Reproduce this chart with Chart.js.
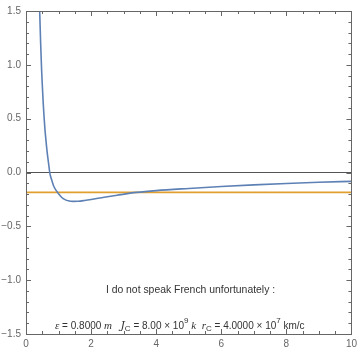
<!DOCTYPE html>
<html><head><meta charset="utf-8">
<script src="https://cdn.jsdelivr.net/npm/chart.js@4"></script>
<style>
html,body{margin:0;padding:0;background:#fff;}
#wrap{position:relative;width:361px;height:353px;}
.t{position:absolute;font-family:"Liberation Sans",Arial,sans-serif;font-size:10px;color:#333;white-space:nowrap;}
.t sup{font-size:8px;vertical-align:6px;line-height:0;}
.t sub{font-size:8px;vertical-align:-2px;line-height:0;}
.i{font-style:italic;font-family:"Liberation Serif",serif;font-size:11px;}
</style></head>
<body><div id="wrap"><canvas id="c" width="361" height="353"></canvas>
<div class="t" id="l1" style="left:0;width:381px;text-align:center;top:284px;font-size:10.4px;">I do not speak French unfortunately :</div>
<div class="t" id="l2" style="left:55px;top:319px;"><span class="i">ε</span> = 0.8000 <span class="i">m</span>&nbsp;&nbsp; <span class="i" style="font-family:'DejaVu Serif',serif;font-size:11px;">J</span><sub>C</sub> = 8.00 × 10<sup>9</sup> <span class="i">k</span>&nbsp; <span class="i">r</span><sub>C</sub> = 4.0000 × 10<sup>7</sup> km/c</div>
</div>
<script>
const xs = [0.40,0.42,0.45,0.48,0.50,0.53,0.55,0.58,0.60,0.65,0.70,0.73,0.75,0.80,0.85,0.90,0.97,1.0,1.1,1.2,1.3,1.45,1.6,1.8,2.0,2.4,2.8,3.4,4.0,5.0,6.0,7.0,8.0,9.0,10.0];
const ys = [1.72,1.50,1.20,0.95,0.82,0.64,0.54,0.41,0.34,0.19,0.07,0.0,-0.03,-0.08,-0.125,-0.155,-0.185,-0.198,-0.232,-0.252,-0.263,-0.268,-0.267,-0.260,-0.251,-0.230,-0.211,-0.185,-0.168,-0.148,-0.130,-0.115,-0.102,-0.091,-0.082];
const levelX = [0, 10];
const levelY = [-0.185, -0.185];
const zeroY = [0, 0];
const xTicks = [0,2,4,6,8,10];
const yTicks = [-1.5,-1.0,-0.5,0.0,0.5,1.0,1.5];

const frame = {
  id:'frame',
  afterDraw(chart){
    const ctx=chart.ctx, a=chart.chartArea, sx=chart.scales.x, sy=chart.scales.y;
    ctx.save();
    ctx.strokeStyle='#666'; ctx.lineWidth=1;
    ctx.strokeRect(Math.round(a.left)+0.5, Math.round(a.top)+0.5, Math.round(a.right-a.left), Math.round(a.bottom-a.top));
    ctx.beginPath();
    for(let v=0; v<=10.001; v+=0.5){
      const px=Math.round(sx.getPixelForValue(v))+0.5;
      const major=Math.abs(v/2-Math.round(v/2))<1e-6;
      const L=major?5:3;
      ctx.moveTo(px,a.bottom); ctx.lineTo(px,a.bottom-L);
      ctx.moveTo(px,a.top); ctx.lineTo(px,a.top+L);
    }
    for(let k=-15; k<=15; k++){
      const v=k/10;
      const py=Math.round(sy.getPixelForValue(v))+0.5;
      const L=(k%5===0)?5:3;
      ctx.moveTo(a.left,py); ctx.lineTo(a.left+L,py);
      ctx.moveTo(a.right,py); ctx.lineTo(a.right-L,py);
    }
    ctx.stroke();
    ctx.restore();
  }
};

new Chart(document.getElementById('c'), {
  type:'scatter',
  data:{datasets:[
    {data:levelX.map((x,i)=>({x,y:zeroY[i]})), showLine:true, borderColor:'#555', borderWidth:1, pointRadius:0, order:3},
    {data:levelX.map((x,i)=>({x,y:levelY[i]})), showLine:true, borderColor:'#E0A030', borderWidth:1.6, pointRadius:0, order:2},
    {data:xs.map((x,i)=>({x,y:ys[i]})), showLine:true, borderColor:'#5E81B5', borderWidth:1.6, pointRadius:0, cubicInterpolationMode:'monotone', order:1}
  ]},
  options:{
    responsive:false, animation:false, events:[],
    layout:{padding:{top:6,right:8,left:0,bottom:0}},
    plugins:{legend:{display:false}, tooltip:{enabled:false}},
    scales:{
      x:{type:'linear', min:0, max:10,
        afterBuildTicks(s){ s.ticks = xTicks.map(v=>({value:v})); },
        afterFit(s){ s.height=19; },
        grid:{display:false, drawTicks:false}, border:{display:false},
        ticks:{padding:4, color:'#666', font:{family:'Liberation Sans, Arial', size:10}, maxRotation:0, callback:v=>String(v)}},
      y:{type:'linear', min:-1.5, max:1.5,
        afterBuildTicks(s){ s.ticks = yTicks.map(v=>({value:v})); },
        afterFit(s){ s.width=26; },
        grid:{display:false, drawTicks:false}, border:{display:false},
        ticks:{padding:5, color:'#666', font:{family:'Liberation Sans, Arial', size:10}, callback:v=>(v<0?'\u2212':'')+Math.abs(v).toFixed(1)}}
    }
  },
  plugins:[frame]
});
</script></body></html>
